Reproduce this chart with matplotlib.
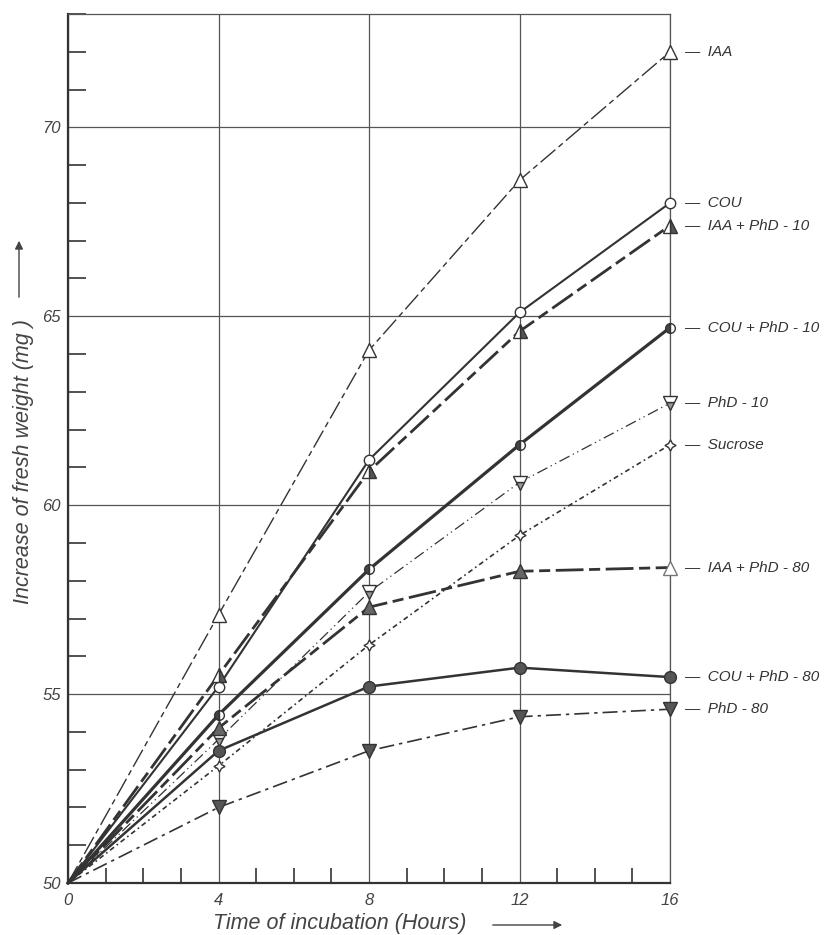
import matplotlib
matplotlib.use("Agg")
import matplotlib.pyplot as plt
from matplotlib.ticker import MultipleLocator

# Fresh weight (mg) of tissue segments over the incubation time
hours = [0, 4, 8, 12, 16]

iaa = [50, 57.1, 64.1, 68.6, 72.0]
cou = [50, 55.2, 61.2, 65.1, 68.0]
iaa_phd10 = [50, 55.5, 60.9, 64.6, 67.4]
cou_phd10 = [50, 54.45, 58.3, 61.6, 64.7]
phd10 = [50, 53.8, 57.7, 60.6, 62.7]
sucrose = [50, 53.1, 56.3, 59.2, 61.6]
iaa_phd80 = [50, 54.1, 57.3, 58.25, 58.35]
cou_phd80 = [50, 53.5, 55.2, 55.7, 55.45]
phd80 = [50, 52.0, 53.5, 54.4, 54.6]

series_names = ["IAA", "COU", "IAA + PhD - 10", "COU + PhD - 10", "PhD - 10",
                "Sucrose", "IAA + PhD - 80", "COU + PhD - 80", "PhD - 80"]

INK = "#333333"
FONT = "Liberation Sans"

# values, line width, dash pattern, marker kwargs (same order as the names)
styles = [
    (iaa, 1.0, (14, 3, 4, 3), dict(marker="^", ms=10, mfc="white")),
    (cou, 1.5, None, dict(marker="o", ms=7.5, mfc="white")),
    (iaa_phd10, 2.0, (9, 2, 4, 2), dict(marker="^", ms=10, fillstyle="right",
                                       mfc="#555555", mfcalt="white")),
    (cou_phd10, 2.3, None, dict(marker="o", ms=7, fillstyle="left",
                               mfc="#444444", mfcalt="white")),
    (phd10, 0.9, (9, 3, 1, 3, 1, 3), dict(marker="v", ms=10, fillstyle="bottom",
                                         mfc="#999999", mfcalt="white")),
    (sucrose, 1.2, (3, 2, 1, 2), dict(marker=(4, 1, 0), ms=8, mfc="white")),
    (iaa_phd80, 2.0, (10, 2, 4, 2), dict(marker="^", ms=10, mfc="#666666")),
    (cou_phd80, 1.8, None, dict(marker="o", ms=8.5, mfc="#555555")),
    (phd80, 1.2, (9, 3, 2, 3), dict(marker="v", ms=10, mfc="#555555")),
]

fig = plt.figure(figsize=(8.31, 9.35), dpi=100)
ax = fig.add_axes([68 / 831, 52 / 935, 602 / 831, 869 / 935])

for name, (vals, lw, dashes, mk) in zip(series_names, styles):
    kw = dict(color=INK, lw=lw, mec=INK, mew=1.0, markevery=[1, 2, 3, 4],
              zorder=3, clip_on=False)
    kw.update(mk)
    if name == "IAA + PhD - 80":
        # last reading drawn as an open triangle
        kw["markevery"] = [1, 2, 3]
    line, = ax.plot(hours, vals, **kw)
    if dashes is not None:
        line.set_dashes(dashes)
    if name == "IAA + PhD - 80":
        ax.plot(hours[-1:], vals[-1:], ls="none", marker="^", ms=10,
                mfc="white", mec="#777777", mew=1.0, zorder=4, clip_on=False)
    ax.annotate("—  " + name, xy=(hours[-1], vals[-1]), xytext=(10, 0),
                textcoords="offset points", ha="left", va="center",
                fontsize=11, fontstyle="italic", family=FONT, color=INK,
                annotation_clip=False)

ax.set_xlim(0, 16)
ax.set_ylim(50, 73)

ax.xaxis.set_major_locator(MultipleLocator(4))
ax.xaxis.set_minor_locator(MultipleLocator(1))
ax.yaxis.set_major_locator(MultipleLocator(5))
ax.yaxis.set_minor_locator(MultipleLocator(1))

ax.grid(True, which="major", color="#555555", lw=0.9)
ax.tick_params(which="major", length=0, labelsize=12, labelcolor="#444444")
ax.tick_params(axis="x", which="major", pad=7)
ax.tick_params(axis="y", which="major", pad=5)
ax.tick_params(axis="y", which="minor", direction="in", length=13, width=1.2,
               color=INK)
ax.tick_params(axis="x", which="minor", direction="in", length=11, width=1.2,
               color=INK)
for lab in ax.get_xticklabels() + ax.get_yticklabels():
    lab.set_fontstyle("italic")
    lab.set_family(FONT)

for side in ("left", "bottom"):
    ax.spines[side].set_linewidth(1.6)
    ax.spines[side].set_color(INK)
for side in ("top", "right"):
    ax.spines[side].set_linewidth(0.9)
    ax.spines[side].set_color("#555555")

# Axis titles with their arrows
fig.text(340 / 831, 1 - 923 / 935, "Time of incubation (Hours)", ha="center",
         va="center", fontsize=15.5, fontstyle="italic", family=FONT,
         color="#444444")
fig.text(24 / 831, 1 - 462 / 935, "Increase of fresh weight (mg )",
         ha="center", va="center", rotation=90, fontsize=15.5,
         fontstyle="italic", family=FONT, color="#444444")
arrow = dict(arrowstyle="-|>", color="#444444", lw=1.0, mutation_scale=12)
fig.add_artist(matplotlib.patches.FancyArrowPatch(
    (490 / 831, 1 - 925 / 935), (565 / 831, 1 - 925 / 935),
    transform=fig.transFigure, **arrow))
fig.add_artist(matplotlib.patches.FancyArrowPatch(
    (19 / 831, 1 - 300 / 935), (19 / 831, 1 - 238 / 935),
    transform=fig.transFigure, **arrow))

fig.savefig("out.png", dpi=100, facecolor="white")
